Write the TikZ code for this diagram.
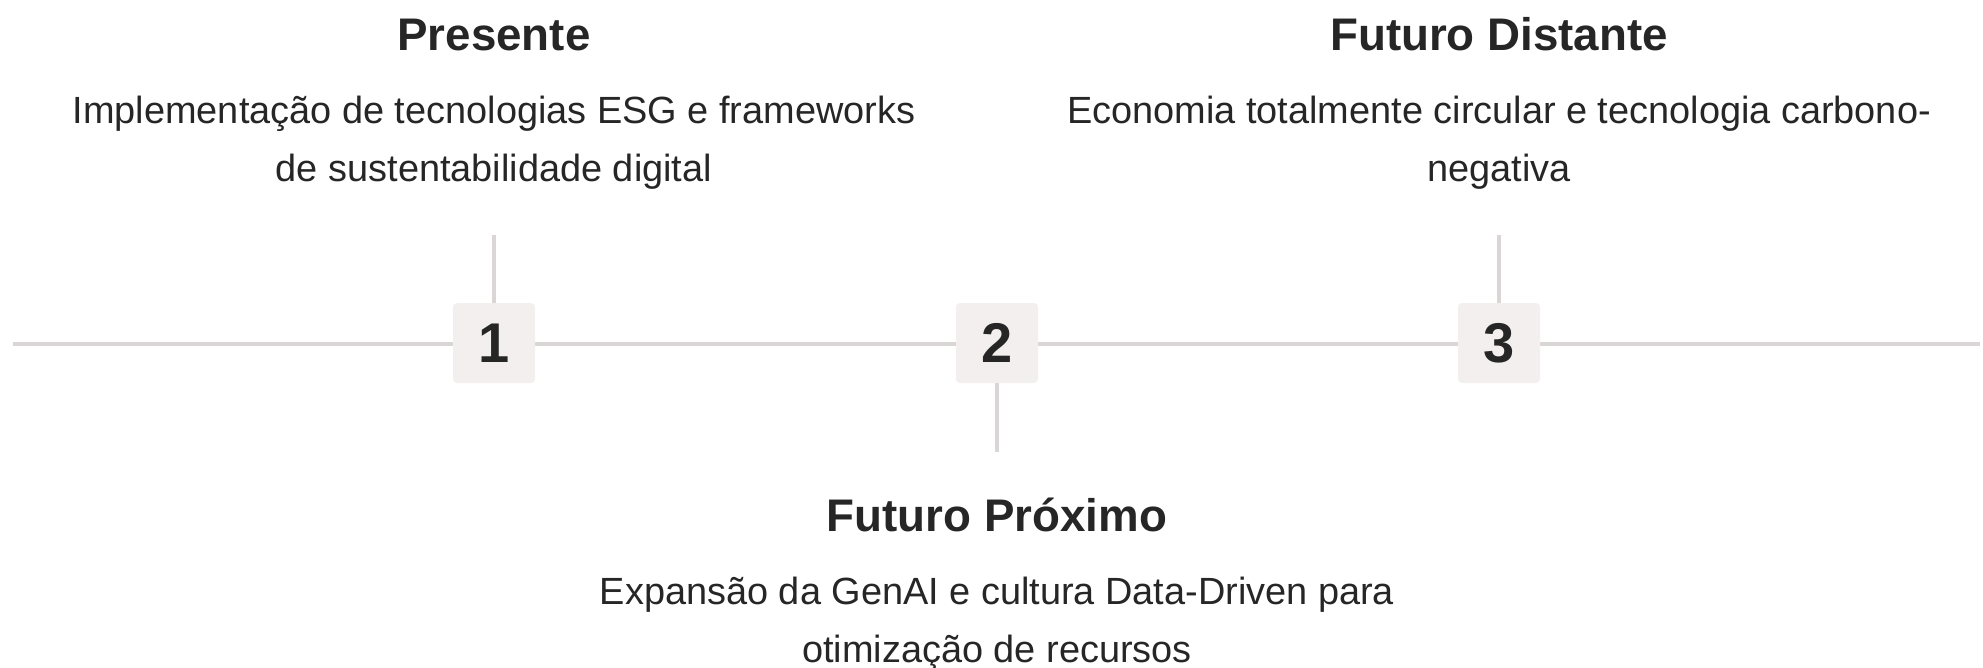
\documentclass[tikz,border=0pt]{standalone}
\usepackage{fontspec}
\setmainfont{Liberation Sans}
\definecolor{ink}{HTML}{262626}
\definecolor{rule}{HTML}{D9D6D5}
\definecolor{boxfill}{HTML}{F2EFEE}
\tikzset{
  x=1pt, y=-1pt,
  conn/.style={draw=rule, line width=3.5pt},
  numbox/.style={fill=boxfill, rounded corners=4pt, minimum width=82pt, minimum height=80pt, inner sep=0pt,
    text=ink, font=\fontsize{56}{56}\selectfont\bfseries},
  ttl/.style={anchor=base, inner sep=0pt, text=ink, font=\fontsize{45.7}{50}\selectfont\bfseries},
  desc/.style={anchor=base, inner sep=0pt, align=center, text=ink, font=\fontsize{37.9}{58}\selectfont},
}
\begin{document}
\begin{tikzpicture}
\useasboundingbox (0,0) rectangle (1983,668);
\coordinate (L) at (13,344);
\coordinate (R) at (1980,344);
\coordinate (t1) at (494,235);
\coordinate (t2) at (997,452);
\coordinate (t3) at (1499,235);
\draw[conn] (L) -- (R);
\node[numbox] (b1) at (494,343) {1};
\node[numbox] (b2) at (997,343) {2};
\node[numbox] (b3) at (1499,343) {3};
\draw[conn] (t1) -- (b1.north);
\draw[conn] (b2.south) -- (t2);
\draw[conn] (t3) -- (b3.north);
\node[ttl] (h1) at (494,51) {Presente};
\node[desc] (d1) at (494,182) {Implementação de tecnologias ESG e frameworks\\de sustentabilidade digital};
\node[ttl] (h3) at (1499,51) {Futuro Distante};
\node[desc] (d3) at (1499,182) {Economia totalmente circular e tecnologia carbono-\\negativa};
\node[ttl] (h2) at (997,531) {Futuro Próximo};
\node[desc] (d2) at (997,662) {Expansão da GenAI e cultura Data-Driven para\\otimização de recursos};
\end{tikzpicture}
\end{document}
